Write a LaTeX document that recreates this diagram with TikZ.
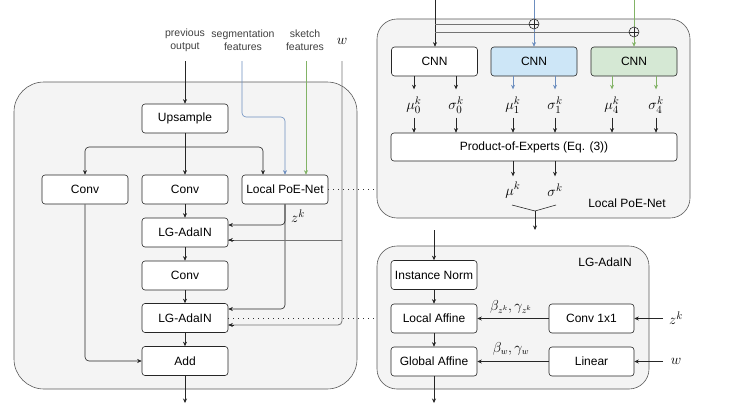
\documentclass[tikz,border=0pt]{standalone}
\usepackage{fontspec}
\setmainfont{Liberation Sans}
\usetikzlibrary{arrows.meta,calc}
\definecolor{cblue}{HTML}{6C8EBF}
\definecolor{cgreen}{HTML}{82B366}
\definecolor{fblue}{HTML}{CDE6F7}
\definecolor{fgreen}{HTML}{D5E8D4}
\definecolor{bgc}{HTML}{F4F4F4}
\begin{document}
\begin{tikzpicture}[x=1pt,y=-1pt,
  box/.style={draw=black!85, fill=white, rounded corners=3pt, minimum width=86pt, minimum height=29pt, inner sep=0pt, line width=0.6pt, font=\fontsize{12}{14}\selectfont},
  container/.style={draw=black!65, fill=bgc, line width=0.6pt, inner sep=0pt},
  conn/.style={draw=black!85, line width=0.6pt, -{Stealth[length=4.5pt,width=4pt]}},
  plain/.style={draw=black!85, line width=0.6pt},
  wline/.style={draw=black!55, line width=0.8pt},
  dotline/.style={draw=black!80, line width=0.8pt, dash pattern=on 0.8pt off 4.2pt},
  lbl/.style={font=\fontsize{10.5}{13}\selectfont, text=black!75, align=center, inner sep=0pt},
  mth/.style={font=\fontsize{15}{17}\selectfont, inner sep=0pt},
  oplus/.style={draw=black!85, fill=bgc, circle, minimum size=10pt, inner sep=0pt, line width=0.6pt,
    path picture={\draw[black!85, line width=0.6pt] (path picture bounding box.north) -- (path picture bounding box.south) (path picture bounding box.west) -- (path picture bounding box.east);}}
]
\useasboundingbox (0,0) rectangle (746,412);

% ---------- containers ----------
\node[container, rounded corners=30pt, minimum width=343pt, minimum height=307pt] (leftc) at (185.5,235.5) {};
\node[container, rounded corners=20pt, minimum width=313pt, minimum height=199pt] (rtc) at (533.5,118.5) {};
\node[container, rounded corners=20pt, minimum width=272pt, minimum height=143pt] (rbc) at (513,317.5) {};

% ---------- left block ----------
\node[lbl] (lprev) at (185,40.5) {previous\\output};
\node[lbl] (lseg) at (243,40.5) {segmentation\\features};
\node[lbl] (lsk) at (305,40.5) {sketch\\features};
\node[mth] (lw) at (342,41) {$w$};

\coordinate (prevtop) at (185,61);
\coordinate (segtop) at (242,61);
\coordinate (sketchtop) at (306,61);
\coordinate (wtop) at (342,61);
\coordinate (outL) at (185,403);

\node[box] (ups) at (185,118.5) {Upsample};
\node[box] (convL) at (85,189.5) {Conv};
\node[box] (convM) at (185,189.5) {Conv};
\node[box] (poe) at (285,189.5) {Local PoE-Net};
\node[box] (ada1) at (185,232.5) {LG-AdaIN};
\node[box] (conv2) at (185,275.5) {Conv};
\node[box] (ada2) at (185,318) {LG-AdaIN};
\node[box] (add) at (185,361) {Add};

\draw[conn] (prevtop) -- (ups.north);
\draw[conn] (ups.south) -- (convM.north);
\draw[conn, rounded corners=4pt] (ups.south |- 0,147) -- (85,147) -- (convL.north);
\draw[conn, rounded corners=4pt] (ups.south |- 0,147) -- (263,147) -- (poe.north -| 263,0);
\draw[conn, cblue, rounded corners=4pt] (segtop) -- (242,117) -- (285,117) -- (poe.north);
\draw[conn, cgreen] (sketchtop) -- (poe.north -| sketchtop);

\draw[conn] (convM.south) -- (ada1.north);
\draw[conn] (ada1.south) -- (conv2.north);
\draw[conn] (conv2.south) -- (ada2.north);
\draw[conn] (ada2.south) -- (add.north);
\draw[conn] (add.south) -- (outL);
\draw[conn, rounded corners=4pt] (convL.south) -- (85,361) -- (add.west);

\draw[conn, rounded corners=4pt] (poe.south) -- (285,225) -- (ada1.east |- 0,225);
\draw[conn, rounded corners=4pt] (poe.south) -- (285,309) -- (ada2.east |- 0,309);
\node[mth] (zk) at (298,216) {$z^k$};

\draw[wline, rounded corners=4pt] (wtop) -- (342,325) -- (ada2.east |- 0,325);
\draw[wline] (342,240) -- (ada1.east |- 0,240);
\draw[conn] ($(ada2.east |- 0,325)+(6,0)$) -- (ada2.east |- 0,325);
\draw[conn] ($(ada1.east |- 0,240)+(6,0)$) -- (ada1.east |- 0,240);

\draw[dotline] (poe.east) -- (rtc.west |- poe.east);
\draw[dotline] (ada2.east) -- (rbc.west |- ada2.east);

% ---------- Local PoE-Net ----------
\coordinate (in0) at (435,0);
\coordinate (in1) at (534,0);
\coordinate (in2) at (634,0);
\node[box] (cnn0) at (434.5,61.5) {CNN};
\node[box, fill=fblue] (cnn1) at (534,61.5) {CNN};
\node[box, fill=fgreen] (cnn2) at (634,61.5) {CNN};

\draw[conn] (in0) -- (cnn0.north -| in0);
\draw[conn, cblue] (in1) -- (cnn1.north -| in1);
\draw[conn, cgreen] (in2) -- (cnn2.north -| in2);
\draw[wline, line width=0.6pt] (435,24) -- (529,24);
\draw[wline, line width=0.6pt] (435,32) -- (629,32);
\node[oplus] (op1) at (534,24) {};
\node[oplus] (op2) at (634,32) {};

\node[mth] (mu0) at (414,105) {$\mu_0^k$};
\node[mth] (sg0) at (456,105) {$\sigma_0^k$};
\node[mth] (mu1) at (513,105) {$\mu_1^k$};
\node[mth] (sg1) at (555,105) {$\sigma_1^k$};
\node[mth] (mu4) at (612,105) {$\mu_4^k$};
\node[mth] (sg4) at (656,105) {$\sigma_4^k$};

\node[box, minimum width=286pt, minimum height=28pt] (pexp) at (534,147) {Product-of-Experts (Eq. (3))};

\draw[conn] (cnn0.south -| mu0) -- ++(0,13);
\draw[conn] (cnn0.south -| sg0) -- ++(0,13);
\draw[conn, cblue] (cnn1.south -| mu1) -- ++(0,13);
\draw[conn, cblue] (cnn1.south -| sg1) -- ++(0,13);
\draw[conn, cgreen] (cnn2.south -| mu4) -- ++(0,13);
\draw[conn, cgreen] (cnn2.south -| sg4) -- ++(0,13);
\foreach \n in {mu0,sg0,mu1,sg1,mu4,sg4}{
  \draw[conn] ($(pexp.north -| \n)+(0,-15)$) -- (pexp.north -| \n);
}

\node[mth] (muk) at (513,190) {$\mu^k$};
\node[mth] (sgk) at (555,190) {$\sigma^k$};
\draw[conn] (pexp.south -| muk) -- ++(0,15);
\draw[conn] (pexp.south -| sgk) -- ++(0,15);
\coordinate (merge) at (535,211);
\coordinate (poeout) at (535,230);
\draw[plain] (512,205) -- (merge) -- (556,205);
\draw[conn] (merge) -- (poeout);
\node[font=\fontsize{12}{14}\selectfont, inner sep=0pt] (tpoe) at (627,203) {Local PoE-Net};

% ---------- LG-AdaIN ----------
\coordinate (lgin) at (434,230);
\coordinate (lgout) at (434,403);
\coordinate (zin) at (663,318.5);
\coordinate (win) at (663,361.5);
\node[box] (inorm) at (434,275) {Instance Norm};
\node[box] (laff) at (434,318.5) {Local Affine};
\node[box] (gaff) at (434,361.5) {Global Affine};
\node[box, minimum width=85pt] (c11) at (591.5,318.5) {Conv 1x1};
\node[box, minimum width=85pt] (lin) at (591.5,361.5) {Linear};
\node[font=\fontsize{12}{14}\selectfont, inner sep=0pt] (tlg) at (605,262) {LG-AdaIN};

\draw[conn] (lgin) -- (inorm.north);
\draw[conn] (inorm.south) -- (laff.north);
\draw[conn] (laff.south) -- (gaff.north);
\draw[conn] (gaff.south) -- (lgout);
\draw[conn] (c11.west) -- (laff.east);
\draw[conn] (lin.west) -- (gaff.east);
\node[font=\fontsize{13.5}{15}\selectfont, inner sep=0pt] (bz) at (511,307) {$\beta_{z^k},\gamma_{z^k}$};
\node[font=\fontsize{13.5}{15}\selectfont, inner sep=0pt] (bw) at (511,349) {$\beta_{w},\gamma_{w}$};
\node[mth] (zr) at (676,318) {$z^k$};
\node[mth] (wr) at (676,361) {$w$};
\draw[conn] (zin) -- (c11.east);
\draw[conn] (win) -- (lin.east);
\end{tikzpicture}
\end{document}
